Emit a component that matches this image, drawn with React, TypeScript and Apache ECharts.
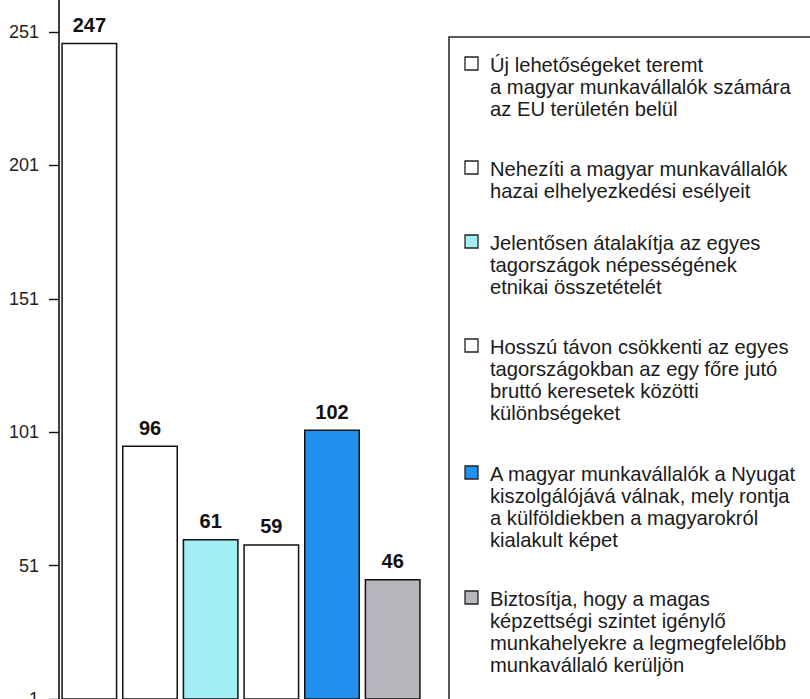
import React, { useEffect, useRef } from "react";
import * as echarts from "echarts";

// ---- data ----
const legendLines: string[][] = [
  ["Új lehetőségeket teremt", "a magyar munkavállalók számára", "az EU területén belül"],
  ["Nehezíti a magyar munkavállalók", "hazai elhelyezkedési esélyeit"],
  ["Jelentősen átalakítja az egyes", "tagországok népességének", "etnikai összetételét"],
  ["Hosszú távon csökkenti az egyes", "tagországokban az egy főre jutó", "bruttó keresetek közötti", "különbségeket"],
  ["A magyar munkavállalók a Nyugat", "kiszolgálójává válnak, mely rontja", "a külföldiekben a magyarokról", "kialakult képet"],
  ["Biztosítja, hogy a magas", "képzettségi szintet igénylő", "munkahelyekre a legmegfelelőbb", "munkavállaló kerüljön"],
];
const categories: string[] = legendLines.map((l) => l.join(" "));
const values: number[] = [247, 96, 61, 59, 102, 46];
const yTickValues: number[] = [1, 51, 101, 151, 201, 251];
const yMin = 1;
const yMax = 263;

// ---- styles / layout ----
const barColors = ["#ffffff", "#ffffff", "#a2eef5", "#ffffff", "#2290ee", "#b7b7bb"];
const legendMarkerTops = [57, 161, 235, 339, 466, 591];
const FONT = "'Liberation Sans', Arial, Helvetica, sans-serif";

export default function App() {
  const ref = useRef<HTMLDivElement>(null);

  useEffect(() => {
    if (!ref.current) return;
    const chart = echarts.init(ref.current, undefined, { renderer: "svg" });

    const graphics: any[] = [
      {
        type: "rect",
        shape: { x: 449, y: 37, width: 420, height: 720 },
        style: { fill: "none", stroke: "#222", lineWidth: 1.5 },
        silent: true,
      },
    ];
    legendLines.forEach((lines, i) => {
      graphics.push({
        type: "rect",
        shape: { x: 465, y: legendMarkerTops[i], width: 13, height: 13 },
        style: { fill: barColors[i], stroke: "#222", lineWidth: 1.3 },
        silent: true,
      });
      graphics.push({
        type: "text",
        x: 490,
        y: legendMarkerTops[i] - 3,
        style: {
          text: lines.join("\n"),
          fontFamily: FONT,
          fontSize: 20.2,
          lineHeight: 22,
          fill: "#1a1a1a",
          align: "left",
          verticalAlign: "top",
        },
        silent: true,
      });
    });

    chart.setOption({
      animation: false,
      backgroundColor: "#ffffff",
      grid: {
        left: 59,
        top: 0,
        bottom: 0,
        width: 364,
        containLabel: false,
        outerBoundsMode: "none",
      },
      xAxis: {
        type: "category",
        data: categories,
        axisLabel: { show: false },
        axisTick: { show: false },
        axisLine: { show: true, lineStyle: { color: "#aaa", width: 1 } },
      },
      yAxis: {
        type: "value",
        min: yMin,
        max: yMax,
        axisLine: { show: true, lineStyle: { color: "#111", width: 1.6 } },
        axisTick: {
          show: true,
          length: 10,
          customValues: yTickValues,
          lineStyle: { color: "#111", width: 1.4 },
        },
        axisLabel: {
          show: true,
          customValues: yTickValues,
          margin: 20,
          fontFamily: FONT,
          fontSize: 18,
          color: "#222",
        },
        splitLine: { show: false },
      },
      series: [
        {
          type: "bar",
          barWidth: 56,
          data: values.map((v, i) => ({
            value: v,
            itemStyle: { color: barColors[i] },
          })),
          itemStyle: { borderColor: "#111", borderWidth: 1.5 },
          label: {
            show: true,
            position: "top",
            distance: 8,
            fontFamily: FONT,
            fontSize: 20,
            fontWeight: "bold",
            color: "#111",
          },
        },
      ],
      graphic: graphics,
    });

    return () => chart.dispose();
  }, []);

  return (
    <div
      ref={ref}
      style={{ position: "fixed", left: 0, top: 0, width: 810, height: 699 }}
    />
  );
}
